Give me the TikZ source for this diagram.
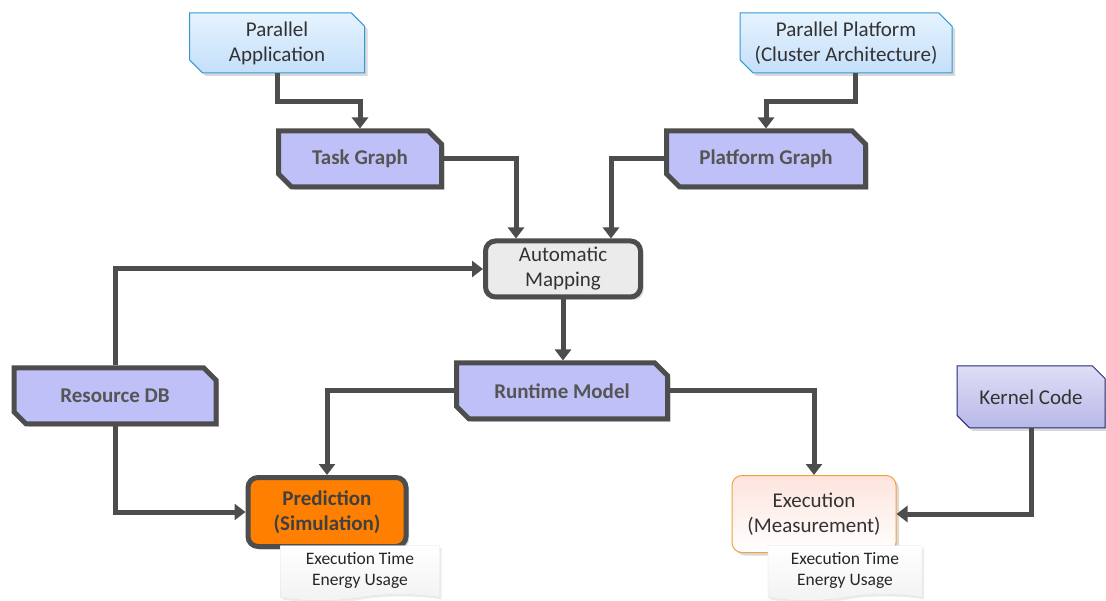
\documentclass[tikz,border=0pt]{standalone}
\usepackage{fontspec}
\setmainfont{Carlito}
\usetikzlibrary{shapes.misc,shapes.symbols,shadows,arrows.meta}

\definecolor{linegray}{RGB}{77,77,77}
\definecolor{textgray}{RGB}{85,85,85}
\definecolor{lavender}{RGB}{192,192,248}
\definecolor{skytop}{RGB}{230,243,254}
\definecolor{skybot}{RGB}{196,223,250}
\definecolor{skyline}{RGB}{51,153,212}
\definecolor{kerntop}{RGB}{222,222,246}
\definecolor{kernbot}{RGB}{184,184,232}
\definecolor{kernline}{RGB}{40,40,120}
\definecolor{mapfill}{RGB}{235,235,235}
\definecolor{predfill}{RGB}{255,128,0}
\definecolor{exectop}{RGB}{253,228,220}
\definecolor{execline}{RGB}{245,160,64}

\begin{document}
\begin{tikzpicture}[x=1pt, y=-1pt,
  every node/.style={font=\fontsize{21}{25}\selectfont, align=center, text=black!80},
  cut/.style={chamfered rectangle, chamfered rectangle corners={north east,south west},
    chamfered rectangle xsep=10pt, minimum height=56pt, inner sep=2pt},
  inbox/.style={cut, draw=skyline, line width=1pt, top color=skytop, bottom color=skybot,
    minimum height=60pt, drop shadow={shadow xshift=3pt, shadow yshift=-3pt, opacity=0.3}},
  graphbox/.style={cut, draw=linegray, line width=5pt, fill=lavender, text=textgray,
    font=\fontsize{21}{25}\selectfont\bfseries,
    drop shadow={shadow xshift=3pt, shadow yshift=-3pt, opacity=0.3}},
  roundbox/.style={rounded corners=10pt, minimum height=56pt,
    drop shadow={shadow xshift=3pt, shadow yshift=-3pt, opacity=0.3}},
  note/.style={tape, tape bend top=none, tape bend bottom=in and out, tape bend height=6pt,
    draw=black!12, top color=white, bottom color=black!5, minimum height=55pt,
    font=\fontsize{17.5}{21}\selectfont, text=black!85,
    drop shadow={shadow xshift=2pt, shadow yshift=-2pt, opacity=0.15}},
  conn/.style={line width=5pt, draw=linegray, -{Triangle[length=11pt,width=16pt]}}]
  \useasboundingbox (0,0) rectangle (1106,601);
  % inputs
  \node[inbox, minimum width=175pt] (app) at (277,43) {Parallel\\Application};
  \node[inbox, minimum width=212pt] (plat) at (846,43) {Parallel Platform\\(Cluster Architecture)};
  \node[cut, draw=kernline, line width=1pt, top color=kerntop, bottom color=kernbot,
    minimum width=148pt, minimum height=62pt,
    drop shadow={shadow xshift=3pt, shadow yshift=-3pt, opacity=0.3}] (kern) at (1031,397) {Kernel Code};
  % models
  \node[graphbox, minimum width=163pt] (task) at (360,159) {Task Graph};
  \node[graphbox, minimum width=199pt] (pgraph) at (766,159) {Platform Graph};
  \node[graphbox, minimum width=202pt] (res) at (115,396) {Resource DB};
  \node[graphbox, minimum width=211pt] (run) at (562,391) {Runtime Model};
  \node[roundbox, draw=linegray, line width=5pt, fill=mapfill, minimum width=155pt] (map) at (563,269) {Automatic\\Mapping};
  % results
  \node[roundbox, draw=linegray, line width=5pt, fill=predfill, minimum width=158pt, minimum height=69pt,
    font=\fontsize{21}{25}\selectfont\bfseries, text=black!75] (pred) at (327,512) {Prediction\\(Simulation)};
  \node[roundbox, draw=execline, line width=1pt, top color=exectop, bottom color=white,
    minimum width=164pt, minimum height=77pt] (exec) at (814,514) {Execution\\(Measurement)};
  \node[note, minimum width=159pt] (prednote) at (360,570) {Execution Time\\Energy Usage};
  \node[note, minimum width=154pt] (execnote) at (845,570) {Execution Time\\Energy Usage};
  % connectors
  \draw[conn] (app.south) -- ++(0,28) -| (task.north);
  \draw[conn] ([xshift=9pt]plat.south) -- ++(0,28) -| (pgraph.north);
  \draw[conn] (task.east) -| ([xshift=-47pt]map.north);
  \draw[conn] (pgraph.west) -| ([xshift=48pt]map.north);
  \draw[conn] (res.north) |- (map.west);
  \draw[conn] (map.south) -- (map.south |- run.north);
  \draw[conn] (run.west) -| (pred.north);
  \draw[conn] (run.east) -| (exec.north);
  \draw[conn] (res.south) |- (pred.west);
  \draw[conn] (kern.south) |- (exec.east);
\end{tikzpicture}
\end{document}
